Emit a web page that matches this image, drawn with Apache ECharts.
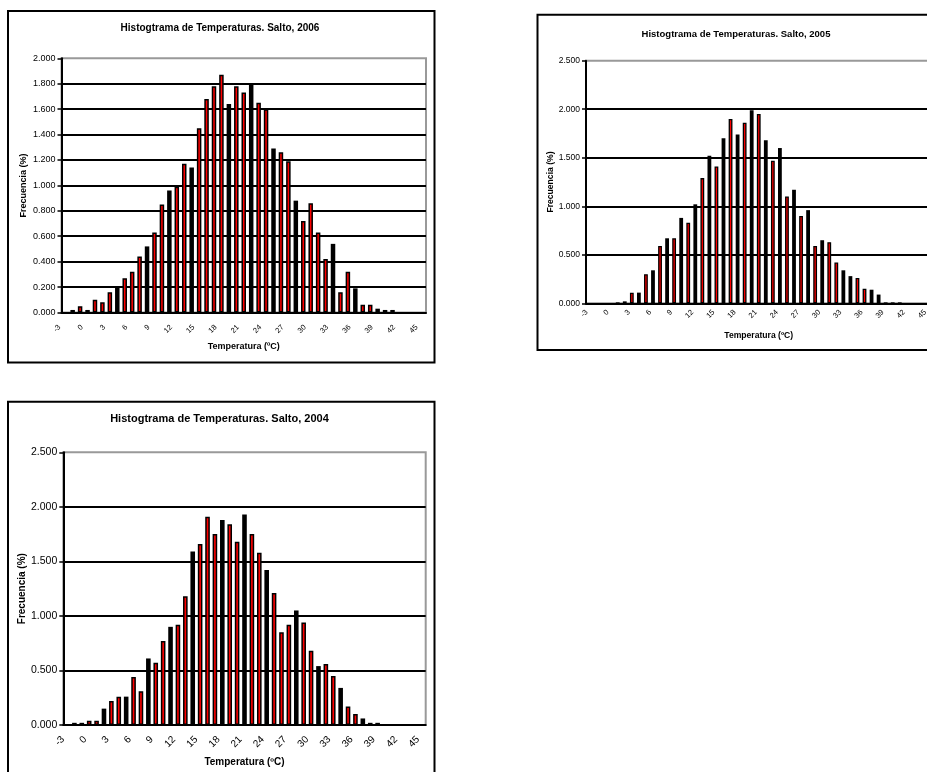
<!DOCTYPE html>
<html>
<head>
<meta charset="utf-8">
<script src="https://cdn.jsdelivr.net/npm/echarts/dist/echarts.min.js"></script>
<style>
  html, body { margin: 0; padding: 0; background: #fff; overflow: hidden; }
  #chart { width: 927px; height: 772px; }
</style>
</head>
<body>
<div id="chart"></div>
<script>
// temperature classes (ºC), same for the three histograms
const temps = ['-3', '-2', '-1', '0', '1', '2', '3', '4', '5', '6', '7', '8', '9', '10', '11', '12',
  '13', '14', '15', '16', '17', '18', '19', '20', '21', '22', '23', '24', '25', '26', '27', '28',
  '29', '30', '31', '32', '33', '34', '35', '36', '37', '38', '39', '40', '41', '42', '43', '44', '45']

// frecuencia (%) per class
const freq2006 = [0, 0.02, 0.05, 0.02, 0.10, 0.08, 0.16, 0.20, 0.27, 0.32, 0.44, 0.52, 0.63, 0.85, 0.96, 0.99,
  1.17, 1.14, 1.45, 1.68, 1.78, 1.87, 1.64, 1.78, 1.73, 1.80, 1.65, 1.60, 1.29, 1.26, 1.19, 0.88,
  0.72, 0.86, 0.63, 0.42, 0.54, 0.16, 0.32, 0.19, 0.06, 0.06, 0.03, 0.02, 0.02, 0, 0, 0, 0]
const freq2005 = [0, 0, 0, 0, 0.01, 0.02, 0.11, 0.11, 0.30, 0.34, 0.59, 0.67, 0.67, 0.88, 0.83, 1.02,
  1.29, 1.52, 1.41, 1.70, 1.90, 1.74, 1.86, 1.99, 1.95, 1.68, 1.47, 1.60, 1.10, 1.17, 0.90, 0.96,
  0.59, 0.65, 0.63, 0.42, 0.34, 0.28, 0.26, 0.15, 0.14, 0.09, 0.01, 0.01, 0.01, 0, 0, 0, 0]
const freq2004 = [0, 0.02, 0.02, 0.04, 0.04, 0.15, 0.22, 0.26, 0.26, 0.44, 0.31, 0.61, 0.57, 0.77, 0.90, 0.92,
  1.18, 1.59, 1.66, 1.91, 1.75, 1.88, 1.84, 1.68, 1.93, 1.75, 1.58, 1.42, 1.21, 0.85, 0.92, 1.05,
  0.94, 0.68, 0.54, 0.56, 0.45, 0.34, 0.17, 0.10, 0.06, 0.02, 0.02, 0, 0, 0, 0, 0, 0]

// classes whose bar comes out solid black in the original (thin bars lose the red fill)
const dark2006 = ['-2', '0', '4', '8', '11', '14', '19', '22', '25', '28', '33', '36', '39', '40', '41']
const dark2005 = ['1', '2', '4', '6', '8', '10', '12', '14', '16', '18', '20', '22', '24', '26', '28', '30',
  '33', '34', '37', '38', '39', '40', '41']
const dark2004 = ['-2', '-1', '2', '5', '8', '11', '14', '18', '21', '24', '28', '31', '34', '37', '38', '39']

const panels = [
  {
    title: 'Histogtrama de Temperaturas. Salto, 2006', data: freq2006, dark: dark2006,
    box: [8, 11, 426.5, 351.5], grid: { left: 61.5, top: 58.3, width: 364.5, height: 254.2 },
    max: 2, step: 0.2, titleAt: [220, 28], titleSize: 10, valSize: 9, catSize: 7.5, nameSize: 9,
    xGap: 30, yGap: 33, barW: 4.5, border: 1.5, catMargin: 8, catPad: 8
  },
  {
    title: 'Histogtrama de Temperaturas. Salto, 2005', data: freq2005, dark: dark2005,
    box: [537.5, 14.7, 500, 335.3], grid: { left: 586, top: 60.7, width: 345.5, height: 242.6 },
    max: 2.5, step: 0.5, titleAt: [736, 34], titleSize: 9.5, valSize: 8.5, catSize: 7.5, nameSize: 8.6,
    xGap: 27.5, yGap: 29.5, barW: 3.8, border: 1.3, catMargin: 5, catPad: 4
  },
  {
    title: 'Histogtrama de Temperaturas. Salto, 2004', data: freq2004, dark: dark2004,
    box: [8, 401.7, 426.5, 500], grid: { left: 63.3, top: 452.3, width: 362.4, height: 272.7 },
    max: 2.5, step: 0.5, titleAt: [219.5, 419], titleSize: 11, valSize: 10.5, catSize: 10, nameSize: 10,
    xGap: 32, yGap: 29.5, barW: 4.6, border: 1.5, catMargin: 9, catPad: 5.5
  }
]

const font = '"Liberation Sans", Arial, sans-serif'

// empty classes draw nothing (no flat border line on the axis)
function barData (values, dark) {
  return values.map((v, i) => {
    if (v === 0) return '-'
    return dark.includes(temps[i]) ? { value: v, itemStyle: { color: '#000', borderWidth: 0 } } : v
  })
}

const option = {
  animation: false,
  backgroundColor: '#fff',
  title: panels.map(p => ({
    text: p.title,
    left: p.titleAt[0],
    top: p.titleAt[1],
    textAlign: 'center',
    textVerticalAlign: 'middle',
    padding: 0,
    textStyle: { fontFamily: font, fontWeight: 'bold', fontSize: p.titleSize, color: '#000' }
  })),
  graphic: panels.map(p => ({
    type: 'rect',
    silent: true,
    z: 100,
    shape: { x: p.box[0], y: p.box[1], width: p.box[2], height: p.box[3] },
    style: { fill: null, stroke: '#000', lineWidth: 2 }
  })),
  grid: panels.map(p => ({
    ...p.grid,
    containLabel: false,
    outerBoundsMode: 'none',
    show: true,
    backgroundColor: 'transparent',
    borderColor: '#999',
    borderWidth: 2
  })),
  xAxis: panels.map((p, k) => ({
    type: 'category',
    gridIndex: k,
    data: temps,
    name: 'Temperatura (ºC)',
    nameLocation: 'middle',
    nameGap: p.xGap,
    nameTextStyle: { fontFamily: font, fontWeight: 'bold', fontSize: p.nameSize, color: '#000' },
    axisLine: { lineStyle: { color: '#000', width: 2 } },
    axisTick: { interval: 0, length: 3, lineStyle: { color: '#000', width: 1.5 } },
    axisLabel: {
      interval: 2, rotate: 45, margin: p.catMargin, padding: [0, p.catPad, 0, 0],
      fontFamily: font, fontSize: p.catSize, color: '#000'
    },
    splitLine: { show: false }
  })),
  yAxis: panels.map((p, k) => ({
    type: 'value',
    gridIndex: k,
    min: 0,
    max: p.max,
    interval: p.step,
    name: 'Frecuencia (%)',
    nameLocation: 'middle',
    nameGap: p.yGap,
    nameTextStyle: { fontFamily: font, fontWeight: 'bold', fontSize: p.nameSize, color: '#000' },
    axisLine: { show: true, lineStyle: { color: '#000', width: 2 } },
    axisTick: { show: true, length: 4, lineStyle: { color: '#000', width: 1.5 } },
    axisLabel: { margin: 6, fontFamily: font, fontSize: p.valSize, color: '#000', formatter: v => v.toFixed(3) },
    splitLine: { show: true, showMinLine: false, showMaxLine: false, lineStyle: { color: '#000', width: 2 } }
  })),
  series: panels.map((p, k) => ({
    type: 'bar',
    xAxisIndex: k,
    yAxisIndex: k,
    barWidth: p.barW,
    itemStyle: { color: '#ff0000', borderColor: '#000', borderWidth: p.border },
    data: barData(p.data, p.dark)
  }))
}

const chart = echarts.init(document.getElementById('chart'))
chart.setOption(option)
</script>
</body>
</html>
